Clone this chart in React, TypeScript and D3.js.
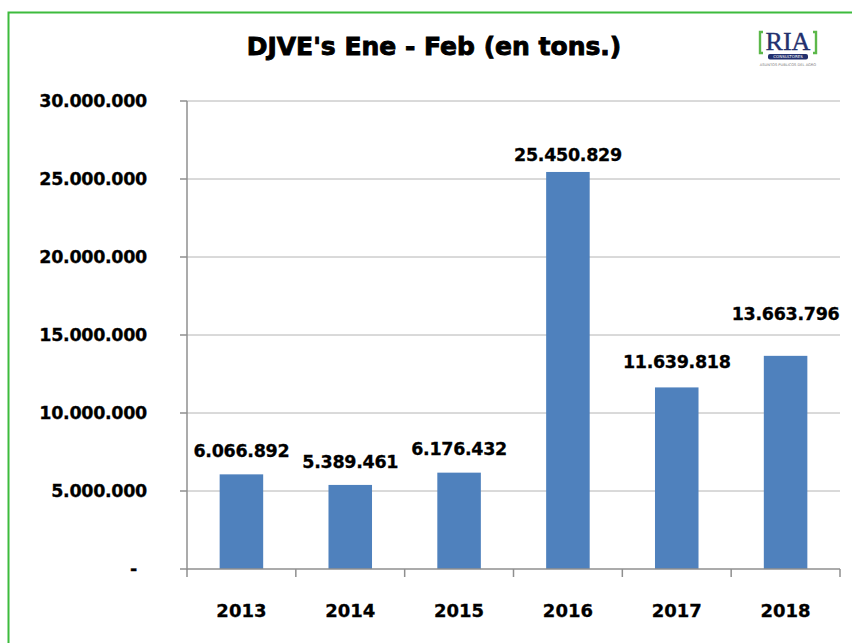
import React from "react";
import * as d3 from "d3";

const years = ["2013", "2014", "2015", "2016", "2017", "2018"];
const tons = [6066892, 5389461, 6176432, 25450829, 11639818, 13663796];
const yTicks = [0, 5000000, 10000000, 15000000, 20000000, 25000000, 30000000];
const labelGap = [23, 23, 24, 17, 25, 42];
const title = "DJVE's Ene - Feb (en tons.)";

const W = 852;
const H = 643;
const left = 187;
const right = 840;
const top = 101;
const bottom = 569;

const locale = d3.formatLocale({ decimal: ",", thousands: ".", grouping: [3], currency: ["$", ""] });
const fmt = locale.format(",d");

export default function App() {
  const x = d3.scaleBand<string>().domain(years).range([left, right]).padding(0);
  const y = d3.scaleLinear().domain([0, 30000000]).range([bottom, top]);
  const bw = x.bandwidth() * 0.4;
  const font = "'DejaVu Sans', Verdana, sans-serif";
  const axisColor = "#8f8f8f";
  return (
    <svg width={W} height={H} style={{ position: "absolute", left: 0, top: 0, background: "#fff" }}>
      <rect x={8.5} y={12.5} width={W + 10} height={H + 10} fill="#fff" stroke="#3dbb3d" strokeWidth={2} />
      <text x={434} y={55} textAnchor="middle" fontFamily={font} fontWeight="bold" fontSize={25} fill="#000" stroke="#000" strokeWidth={0.9}>
        {title}
      </text>
      {/* logo */}
      <g>
        <path d="M763,32 h-3 v21 h3" fill="none" stroke="#5cb84a" strokeWidth={2.4} />
        <path d="M813,32 h3 v21 h-3" fill="none" stroke="#5cb84a" strokeWidth={2.4} />
        <text x={788} y={50} textAnchor="middle" fontFamily="'Liberation Serif', 'DejaVu Serif', serif" fontSize={26} fill="#23306e" stroke="#23306e" strokeWidth={0.4}>RIA</text>
        <rect x={768} y={54} width={40} height={5.5} rx={2} fill="#23306e" />
        <text x={788} y={58.3} textAnchor="middle" fontFamily={font} fontSize={4} fill="#fff">CONSULTORES</text>
        <text x={788} y={66} textAnchor="middle" fontFamily={font} fontSize={3.6} fill="#777">ASUNTOS PUBLICOS DEL AGRO</text>
      </g>
      {/* gridlines */}
      {yTicks.filter((t) => t > 0).map((t) => (
        <line key={"g" + t} x1={left} x2={right} y1={y(t)} y2={y(t)} stroke="#b4b4b4" strokeWidth={1} />
      ))}
      {/* bars */}
      {years.map((yr, i) => (
        <rect
          key={yr}
          x={(x(yr) as number) + (x.bandwidth() - bw) / 2}
          y={y(tons[i])}
          width={bw}
          height={y(0) - y(tons[i])}
          fill="#4f81bd"
        />
      ))}
      {/* axes */}
      <line x1={left} x2={left} y1={top} y2={bottom + 1} stroke={axisColor} strokeWidth={1.5} />
      <line x1={left} x2={right} y1={bottom} y2={bottom} stroke={axisColor} strokeWidth={1.5} />
      {yTicks.map((t) => (
        <g key={"t" + t}>
          <line x1={left - 7} x2={left} y1={y(t)} y2={y(t)} stroke={axisColor} strokeWidth={1.5} />
          <text x={t === 0 ? 137 : 147} y={y(t) + 6} textAnchor="end" fontFamily={font} fontWeight="bold" fontSize={17.5} letterSpacing={-0.3} fill="#000" stroke="#000" strokeWidth={0.3}>
            {t === 0 ? "-" : fmt(t)}
          </text>
        </g>
      ))}
      {[...years.map((yr) => x(yr) as number), right].map((px, i) => (
        <line key={"xt" + i} x1={px} x2={px} y1={bottom} y2={bottom + 8} stroke={axisColor} strokeWidth={1.5} />
      ))}
      {years.map((yr) => (
        <text key={"xl" + yr} x={(x(yr) as number) + x.bandwidth() / 2} y={617} textAnchor="middle" fontFamily={font} fontWeight="bold" fontSize={18} fill="#000" stroke="#000" strokeWidth={0.3}>
          {yr}
        </text>
      ))}
      {/* data labels */}
      {years.map((yr, i) => (
        <text
          key={"dl" + yr}
          x={(x(yr) as number) + x.bandwidth() / 2}
          y={y(tons[i]) - labelGap[i] + 6}
          textAnchor="middle"
          fontFamily={font}
          fontWeight="bold"
          fontSize={17.5}
          letterSpacing={-0.3}
          fill="#000"
          stroke="#000"
          strokeWidth={0.3}
        >
          {fmt(tons[i])}
        </text>
      ))}
    </svg>
  );
}
